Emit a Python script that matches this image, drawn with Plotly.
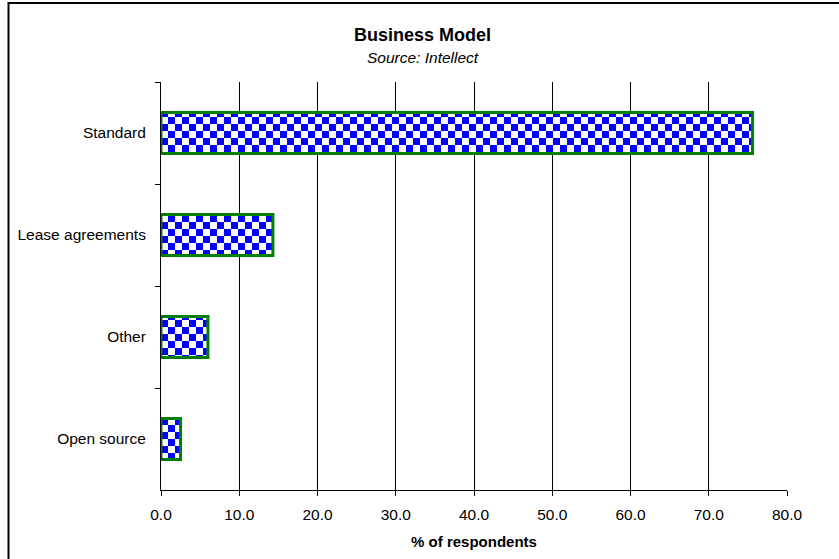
import plotly.graph_objects as go

# Survey results: business model used, share of respondents (%)
categories = ["Standard", "Lease agreements", "Other", "Open source"]
shares = [75.6, 14.3, 6.0, 2.5]
x_ticks = [0, 10, 20, 30, 40, 50, 60, 70, 80]
x_tick_labels = ["0.0", "10.0", "20.0", "30.0", "40.0", "50.0", "60.0", "70.0", "80.0"]

CHECK_FG = "#0000ff"
CHECK_BG = "#ffffff"
EDGE = "#008000"
FONT = "Liberation Sans, Arial, sans-serif"

fig = go.Figure(
    go.Bar(
        x=shares,
        y=categories,
        orientation="h",
        width=0.4,
        marker=dict(
            color=CHECK_BG,
            line=dict(color=EDGE, width=3),
            pattern=dict(shape="+", fgcolor=CHECK_FG, bgcolor=CHECK_BG,
                         size=14, solidity=0.5, fillmode="replace"),
        ),
        hoverinfo="x+y",
    )
)

fig.update_layout(
    width=839,
    height=559,
    margin=dict(l=161, r=52, t=82, b=67),
    paper_bgcolor="white",
    plot_bgcolor="white",
    showlegend=False,
    font=dict(family=FONT, size=15.5, color="black"),
    xaxis=dict(
        range=[0, 80],
        tickvals=x_ticks,
        ticktext=x_tick_labels,
        showgrid=True,
        gridcolor="black",
        gridwidth=1,
        showline=True,
        linecolor="black",
        linewidth=1,
        ticks="outside",
        ticklen=5,
        tickcolor="black",
        ticklabelstandoff=5,
        zeroline=False,
        title=dict(text="<b>% of respondents</b>", font=dict(size=15), standoff=14),
    ),
    yaxis=dict(
        autorange="reversed",
        showgrid=False,
        showline=True,
        linecolor="black",
        linewidth=1,
        ticks="outside",
        tickson="boundaries",
        ticklen=5,
        tickcolor="black",
        ticklabelstandoff=11,
    ),
    annotations=[
        dict(text="<b>Business Model</b>", xref="paper", yref="paper",
             x=(422 - 161) / 626, y=(492 - 35) / 410, showarrow=False,
             font=dict(size=18), xanchor="center", yanchor="middle"),
        dict(text="<i>Source: Intellect</i>", xref="paper", yref="paper",
             x=(423 - 161) / 626, y=(492 - 57) / 410, showarrow=False,
             font=dict(size=15.5), xanchor="center", yanchor="middle"),
    ],
    shapes=[
        dict(type="rect", xref="paper", yref="paper",
             x0=(8.5 - 161) / 626, x1=1.5, y0=-0.5, y1=(492 - 2.5) / 410,
             line=dict(color="black", width=2), fillcolor="rgba(0,0,0,0)",
             layer="below"),
    ],
)

# Turn the bar fill pattern into a two-colour checkerboard.
checker_js = """
(function(){
  var gd = document.getElementById('{plot_id}');
  var ns = 'http://www.w3.org/2000/svg';
  function checker(){
    var pats = document.querySelectorAll('pattern');
    pats.forEach(function(p){
      if (p.getAttribute('data-checker')) return;
      while (p.firstChild) p.removeChild(p.firstChild);
      p.setAttribute('width', 14);
      p.setAttribute('height', 14);
      p.setAttribute('patternUnits', 'userSpaceOnUse');
      [[0,0,14,14,'%BG%'],[0,0,7,7,'%FG%'],[7,7,7,7,'%FG%']].forEach(function(r){
        var e = document.createElementNS(ns, 'rect');
        e.setAttribute('x', r[0]); e.setAttribute('y', r[1]);
        e.setAttribute('width', r[2]); e.setAttribute('height', r[3]);
        e.setAttribute('fill', r[4]);
        p.appendChild(e);
      });
      p.setAttribute('data-checker', '1');
    });
  }
  checker();
  setTimeout(checker, 0);
  if (gd && gd.on) gd.on('plotly_afterplot', checker);
})();
""".replace("%BG%", CHECK_BG).replace("%FG%", CHECK_FG)

fig.write_html("out.html", post_script=checker_js)
